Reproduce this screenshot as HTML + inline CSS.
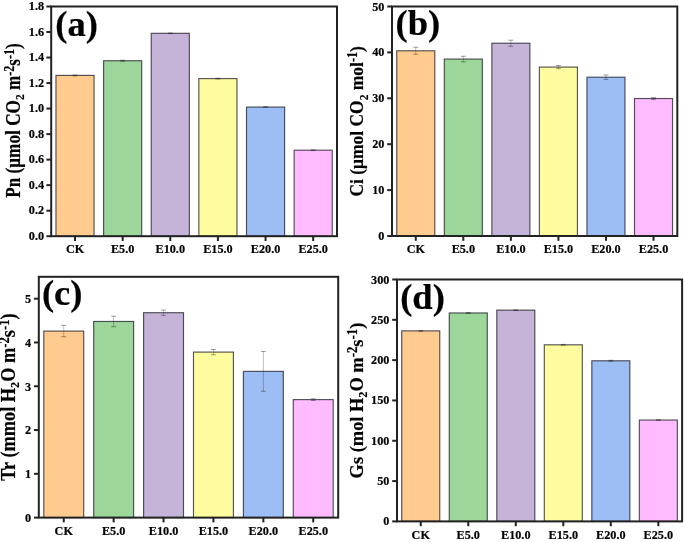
<!DOCTYPE html>
<html><head><meta charset="utf-8"><style>
html,body{margin:0;padding:0;background:#fff;}
body{width:685px;height:542px;overflow:hidden;}
svg{display:block;will-change:transform;filter:blur(0.3px);}
text{font-family:"Liberation Serif", serif;font-weight:bold;fill:#000;stroke:#000;stroke-width:0.2px;}
</style></head><body>
<svg width="685" height="542" viewBox="0 0 685 542">
<rect x="55.96" y="75.41" width="38.11" height="160.79" fill="#FFCB8F" stroke="rgba(20,20,30,0.72)" stroke-width="1.15"/>
<path d="M75.02 74.90V75.92" stroke="rgba(30,30,30,0.4)" stroke-width="0.7" fill="none"/>
<path d="M72.62 74.90H77.42M72.62 75.92H77.42" stroke="rgba(30,30,30,0.55)" stroke-width="0.8" fill="none"/>
<rect x="103.60" y="60.73" width="38.11" height="175.47" fill="#9DD69B" stroke="rgba(20,20,30,0.72)" stroke-width="1.15"/>
<path d="M122.65 60.22V61.25" stroke="rgba(30,30,30,0.4)" stroke-width="0.7" fill="none"/>
<path d="M120.25 60.22H125.05M120.25 61.25H125.05" stroke="rgba(30,30,30,0.55)" stroke-width="0.8" fill="none"/>
<rect x="151.23" y="33.30" width="38.11" height="202.90" fill="#C5B4D7" stroke="rgba(20,20,30,0.72)" stroke-width="1.15"/>
<path d="M170.28 33.04V33.55" stroke="rgba(30,30,30,0.4)" stroke-width="0.7" fill="none"/>
<path d="M167.88 33.04H172.68M167.88 33.55H172.68" stroke="rgba(30,30,30,0.55)" stroke-width="0.8" fill="none"/>
<rect x="198.86" y="78.60" width="38.11" height="157.60" fill="#FFFCA0" stroke="rgba(20,20,30,0.72)" stroke-width="1.15"/>
<path d="M217.92 78.22V78.98" stroke="rgba(30,30,30,0.4)" stroke-width="0.7" fill="none"/>
<path d="M215.52 78.22H220.32M215.52 78.98H220.32" stroke="rgba(30,30,30,0.55)" stroke-width="0.8" fill="none"/>
<rect x="246.50" y="107.06" width="38.11" height="129.14" fill="#9DBDF5" stroke="rgba(20,20,30,0.72)" stroke-width="1.15"/>
<path d="M265.55 106.67V107.44" stroke="rgba(30,30,30,0.4)" stroke-width="0.7" fill="none"/>
<path d="M263.15 106.67H267.95M263.15 107.44H267.95" stroke="rgba(30,30,30,0.55)" stroke-width="0.8" fill="none"/>
<rect x="294.13" y="150.19" width="38.11" height="86.01" fill="#FFBBFF" stroke="rgba(20,20,30,0.72)" stroke-width="1.15"/>
<path d="M313.18 149.81V150.57" stroke="rgba(30,30,30,0.4)" stroke-width="0.7" fill="none"/>
<path d="M310.78 149.81H315.58M310.78 150.57H315.58" stroke="rgba(30,30,30,0.55)" stroke-width="0.8" fill="none"/>
<rect x="51.20" y="6.50" width="285.80" height="229.70" fill="none" stroke="#222" stroke-width="2.0"/>
<line x1="46.40" y1="236.20" x2="51.20" y2="236.20" stroke="#222" stroke-width="2.0"/>
<line x1="46.40" y1="210.68" x2="51.20" y2="210.68" stroke="#222" stroke-width="2.0"/>
<line x1="46.40" y1="185.16" x2="51.20" y2="185.16" stroke="#222" stroke-width="2.0"/>
<line x1="46.40" y1="159.63" x2="51.20" y2="159.63" stroke="#222" stroke-width="2.0"/>
<line x1="46.40" y1="134.11" x2="51.20" y2="134.11" stroke="#222" stroke-width="2.0"/>
<line x1="46.40" y1="108.59" x2="51.20" y2="108.59" stroke="#222" stroke-width="2.0"/>
<line x1="46.40" y1="83.07" x2="51.20" y2="83.07" stroke="#222" stroke-width="2.0"/>
<line x1="46.40" y1="57.54" x2="51.20" y2="57.54" stroke="#222" stroke-width="2.0"/>
<line x1="46.40" y1="32.02" x2="51.20" y2="32.02" stroke="#222" stroke-width="2.0"/>
<line x1="46.40" y1="6.50" x2="51.20" y2="6.50" stroke="#222" stroke-width="2.0"/>
<line x1="75.02" y1="236.20" x2="75.02" y2="241.00" stroke="#222" stroke-width="2.0"/>
<line x1="122.65" y1="236.20" x2="122.65" y2="241.00" stroke="#222" stroke-width="2.0"/>
<line x1="170.28" y1="236.20" x2="170.28" y2="241.00" stroke="#222" stroke-width="2.0"/>
<line x1="217.92" y1="236.20" x2="217.92" y2="241.00" stroke="#222" stroke-width="2.0"/>
<line x1="265.55" y1="236.20" x2="265.55" y2="241.00" stroke="#222" stroke-width="2.0"/>
<line x1="313.18" y1="236.20" x2="313.18" y2="241.00" stroke="#222" stroke-width="2.0"/>
<text transform="translate(44.10,239.70)" text-anchor="end" font-size="12.20">0.0</text>
<text transform="translate(44.10,214.18)" text-anchor="end" font-size="12.20">0.2</text>
<text transform="translate(44.10,188.66)" text-anchor="end" font-size="12.20">0.4</text>
<text transform="translate(44.10,163.13)" text-anchor="end" font-size="12.20">0.6</text>
<text transform="translate(44.10,137.61)" text-anchor="end" font-size="12.20">0.8</text>
<text transform="translate(44.10,112.09)" text-anchor="end" font-size="12.20">1.0</text>
<text transform="translate(44.10,86.57)" text-anchor="end" font-size="12.20">1.2</text>
<text transform="translate(44.10,61.04)" text-anchor="end" font-size="12.20">1.4</text>
<text transform="translate(44.10,35.52)" text-anchor="end" font-size="12.20">1.6</text>
<text transform="translate(44.10,10.00)" text-anchor="end" font-size="12.20">1.8</text>
<text transform="translate(75.02,252.60)" text-anchor="middle" font-size="12.20">CK</text>
<text transform="translate(122.65,252.60)" text-anchor="middle" font-size="12.20">E5.0</text>
<text transform="translate(170.28,252.60)" text-anchor="middle" font-size="12.20">E10.0</text>
<text transform="translate(217.92,252.60)" text-anchor="middle" font-size="12.20">E15.0</text>
<text transform="translate(265.55,252.60)" text-anchor="middle" font-size="12.20">E20.0</text>
<text transform="translate(313.18,252.60)" text-anchor="middle" font-size="12.20">E25.0</text>
<text transform="translate(19.90,120.50) rotate(-90) scale(0.866,1)" text-anchor="middle" font-size="19.90">Pn (μmol CO<tspan font-size="13.1" dy="4.5">2</tspan><tspan dy="-4.5"> m</tspan><tspan font-size="13.9" dy="-6.2">-2</tspan><tspan dy="6.2">s</tspan><tspan font-size="13.9" dy="-6.2">-1</tspan><tspan dy="6.2">)</tspan></text>
<text transform="translate(76.60,36.30) scale(1.050,1)" text-anchor="middle" font-size="34.80">(a)</text>
<rect x="396.75" y="50.79" width="38.04" height="185.21" fill="#FFCB8F" stroke="rgba(20,20,30,0.72)" stroke-width="1.15"/>
<path d="M415.77 47.31V54.28" stroke="rgba(30,30,30,0.4)" stroke-width="0.7" fill="none"/>
<path d="M413.38 47.31H418.17M413.38 54.28H418.17" stroke="rgba(30,30,30,0.55)" stroke-width="0.8" fill="none"/>
<rect x="444.31" y="59.06" width="38.04" height="176.94" fill="#9DD69B" stroke="rgba(20,20,30,0.72)" stroke-width="1.15"/>
<path d="M463.32 56.30V61.81" stroke="rgba(30,30,30,0.4)" stroke-width="0.7" fill="none"/>
<path d="M460.93 56.30H465.72M460.93 61.81H465.72" stroke="rgba(30,30,30,0.55)" stroke-width="0.8" fill="none"/>
<rect x="491.86" y="43.22" width="38.04" height="192.78" fill="#C5B4D7" stroke="rgba(20,20,30,0.72)" stroke-width="1.15"/>
<path d="M510.88 40.19V46.25" stroke="rgba(30,30,30,0.4)" stroke-width="0.7" fill="none"/>
<path d="M508.48 40.19H513.27M508.48 46.25H513.27" stroke="rgba(30,30,30,0.55)" stroke-width="0.8" fill="none"/>
<rect x="539.40" y="67.09" width="38.04" height="168.91" fill="#FFFCA0" stroke="rgba(20,20,30,0.72)" stroke-width="1.15"/>
<path d="M558.42 65.53V68.65" stroke="rgba(30,30,30,0.4)" stroke-width="0.7" fill="none"/>
<path d="M556.02 65.53H560.82M556.02 68.65H560.82" stroke="rgba(30,30,30,0.55)" stroke-width="0.8" fill="none"/>
<rect x="586.95" y="77.19" width="38.04" height="158.81" fill="#9DBDF5" stroke="rgba(20,20,30,0.72)" stroke-width="1.15"/>
<path d="M605.97 74.98V79.39" stroke="rgba(30,30,30,0.4)" stroke-width="0.7" fill="none"/>
<path d="M603.57 74.98H608.37M603.57 79.39H608.37" stroke="rgba(30,30,30,0.55)" stroke-width="0.8" fill="none"/>
<rect x="634.50" y="98.53" width="38.04" height="137.47" fill="#FFBBFF" stroke="rgba(20,20,30,0.72)" stroke-width="1.15"/>
<path d="M653.52 97.61V99.45" stroke="rgba(30,30,30,0.4)" stroke-width="0.7" fill="none"/>
<path d="M651.12 97.61H655.92M651.12 99.45H655.92" stroke="rgba(30,30,30,0.55)" stroke-width="0.8" fill="none"/>
<rect x="392.00" y="6.50" width="285.30" height="229.50" fill="none" stroke="#222" stroke-width="2.0"/>
<line x1="387.20" y1="236.00" x2="392.00" y2="236.00" stroke="#222" stroke-width="2.0"/>
<line x1="387.20" y1="190.10" x2="392.00" y2="190.10" stroke="#222" stroke-width="2.0"/>
<line x1="387.20" y1="144.20" x2="392.00" y2="144.20" stroke="#222" stroke-width="2.0"/>
<line x1="387.20" y1="98.30" x2="392.00" y2="98.30" stroke="#222" stroke-width="2.0"/>
<line x1="387.20" y1="52.40" x2="392.00" y2="52.40" stroke="#222" stroke-width="2.0"/>
<line x1="387.20" y1="6.50" x2="392.00" y2="6.50" stroke="#222" stroke-width="2.0"/>
<line x1="415.77" y1="236.00" x2="415.77" y2="240.80" stroke="#222" stroke-width="2.0"/>
<line x1="463.32" y1="236.00" x2="463.32" y2="240.80" stroke="#222" stroke-width="2.0"/>
<line x1="510.88" y1="236.00" x2="510.88" y2="240.80" stroke="#222" stroke-width="2.0"/>
<line x1="558.42" y1="236.00" x2="558.42" y2="240.80" stroke="#222" stroke-width="2.0"/>
<line x1="605.97" y1="236.00" x2="605.97" y2="240.80" stroke="#222" stroke-width="2.0"/>
<line x1="653.52" y1="236.00" x2="653.52" y2="240.80" stroke="#222" stroke-width="2.0"/>
<text transform="translate(384.40,240.00)" text-anchor="end" font-size="12.20">0</text>
<text transform="translate(384.40,194.10)" text-anchor="end" font-size="12.20">10</text>
<text transform="translate(384.40,148.20)" text-anchor="end" font-size="12.20">20</text>
<text transform="translate(384.40,102.30)" text-anchor="end" font-size="12.20">30</text>
<text transform="translate(384.40,56.40)" text-anchor="end" font-size="12.20">40</text>
<text transform="translate(384.40,10.50)" text-anchor="end" font-size="12.20">50</text>
<text transform="translate(415.77,253.40)" text-anchor="middle" font-size="12.20">CK</text>
<text transform="translate(463.32,253.40)" text-anchor="middle" font-size="12.20">E5.0</text>
<text transform="translate(510.88,253.40)" text-anchor="middle" font-size="12.20">E10.0</text>
<text transform="translate(558.42,253.40)" text-anchor="middle" font-size="12.20">E15.0</text>
<text transform="translate(605.97,253.40)" text-anchor="middle" font-size="12.20">E20.0</text>
<text transform="translate(653.52,253.40)" text-anchor="middle" font-size="12.20">E25.0</text>
<text transform="translate(363.10,121.35) rotate(-90) scale(0.878,1)" text-anchor="middle" font-size="19.90">Ci (μmol CO<tspan font-size="13.1" dy="4.5">2</tspan><tspan dy="-4.5"> mol</tspan><tspan font-size="13.9" dy="-6.2">-1</tspan><tspan dy="6.2">)</tspan></text>
<text transform="translate(417.80,35.00) scale(1.050,1)" text-anchor="middle" font-size="34.80">(b)</text>
<rect x="43.79" y="331.09" width="39.92" height="186.51" fill="#FFCB8F" stroke="rgba(20,20,30,0.72)" stroke-width="1.15"/>
<path d="M63.75 325.40V336.78" stroke="rgba(30,30,30,0.4)" stroke-width="0.7" fill="none"/>
<path d="M61.35 325.40H66.15M61.35 336.78H66.15" stroke="rgba(30,30,30,0.55)" stroke-width="0.8" fill="none"/>
<rect x="93.69" y="321.46" width="39.92" height="196.14" fill="#9DD69B" stroke="rgba(20,20,30,0.72)" stroke-width="1.15"/>
<path d="M113.65 316.20V326.71" stroke="rgba(30,30,30,0.4)" stroke-width="0.7" fill="none"/>
<path d="M111.25 316.20H116.05M111.25 326.71H116.05" stroke="rgba(30,30,30,0.55)" stroke-width="0.8" fill="none"/>
<rect x="143.59" y="312.70" width="39.92" height="204.90" fill="#C5B4D7" stroke="rgba(20,20,30,0.72)" stroke-width="1.15"/>
<path d="M163.55 310.07V315.33" stroke="rgba(30,30,30,0.4)" stroke-width="0.7" fill="none"/>
<path d="M161.15 310.07H165.95M161.15 315.33H165.95" stroke="rgba(30,30,30,0.55)" stroke-width="0.8" fill="none"/>
<rect x="193.49" y="352.10" width="39.92" height="165.50" fill="#FFFCA0" stroke="rgba(20,20,30,0.72)" stroke-width="1.15"/>
<path d="M213.45 349.48V354.73" stroke="rgba(30,30,30,0.4)" stroke-width="0.7" fill="none"/>
<path d="M211.05 349.48H215.85M211.05 354.73H215.85" stroke="rgba(30,30,30,0.55)" stroke-width="0.8" fill="none"/>
<rect x="243.39" y="371.37" width="39.92" height="146.23" fill="#9DBDF5" stroke="rgba(20,20,30,0.72)" stroke-width="1.15"/>
<path d="M263.35 351.45V391.29" stroke="rgba(30,30,30,0.4)" stroke-width="0.7" fill="none"/>
<path d="M260.95 351.45H265.75M260.95 391.29H265.75" stroke="rgba(30,30,30,0.55)" stroke-width="0.8" fill="none"/>
<rect x="293.29" y="399.61" width="39.92" height="117.99" fill="#FFBBFF" stroke="rgba(20,20,30,0.72)" stroke-width="1.15"/>
<path d="M313.25 398.73V400.48" stroke="rgba(30,30,30,0.4)" stroke-width="0.7" fill="none"/>
<path d="M310.85 398.73H315.65M310.85 400.48H315.65" stroke="rgba(30,30,30,0.55)" stroke-width="0.8" fill="none"/>
<rect x="38.80" y="276.80" width="299.40" height="240.80" fill="none" stroke="#222" stroke-width="2.0"/>
<line x1="34.00" y1="517.60" x2="38.80" y2="517.60" stroke="#222" stroke-width="2.0"/>
<line x1="34.00" y1="473.82" x2="38.80" y2="473.82" stroke="#222" stroke-width="2.0"/>
<line x1="34.00" y1="430.04" x2="38.80" y2="430.04" stroke="#222" stroke-width="2.0"/>
<line x1="34.00" y1="386.25" x2="38.80" y2="386.25" stroke="#222" stroke-width="2.0"/>
<line x1="34.00" y1="342.47" x2="38.80" y2="342.47" stroke="#222" stroke-width="2.0"/>
<line x1="34.00" y1="298.69" x2="38.80" y2="298.69" stroke="#222" stroke-width="2.0"/>
<line x1="63.75" y1="517.60" x2="63.75" y2="522.40" stroke="#222" stroke-width="2.0"/>
<line x1="113.65" y1="517.60" x2="113.65" y2="522.40" stroke="#222" stroke-width="2.0"/>
<line x1="163.55" y1="517.60" x2="163.55" y2="522.40" stroke="#222" stroke-width="2.0"/>
<line x1="213.45" y1="517.60" x2="213.45" y2="522.40" stroke="#222" stroke-width="2.0"/>
<line x1="263.35" y1="517.60" x2="263.35" y2="522.40" stroke="#222" stroke-width="2.0"/>
<line x1="313.25" y1="517.60" x2="313.25" y2="522.40" stroke="#222" stroke-width="2.0"/>
<text transform="translate(31.20,522.00)" text-anchor="end" font-size="12.20">0</text>
<text transform="translate(31.20,478.22)" text-anchor="end" font-size="12.20">1</text>
<text transform="translate(31.20,434.44)" text-anchor="end" font-size="12.20">2</text>
<text transform="translate(31.20,390.65)" text-anchor="end" font-size="12.20">3</text>
<text transform="translate(31.20,346.87)" text-anchor="end" font-size="12.20">4</text>
<text transform="translate(31.20,303.09)" text-anchor="end" font-size="12.20">5</text>
<text transform="translate(63.75,535.00)" text-anchor="middle" font-size="12.20">CK</text>
<text transform="translate(113.65,535.00)" text-anchor="middle" font-size="12.20">E5.0</text>
<text transform="translate(163.55,535.00)" text-anchor="middle" font-size="12.20">E10.0</text>
<text transform="translate(213.45,535.00)" text-anchor="middle" font-size="12.20">E15.0</text>
<text transform="translate(263.35,535.00)" text-anchor="middle" font-size="12.20">E20.0</text>
<text transform="translate(313.25,535.00)" text-anchor="middle" font-size="12.20">E25.0</text>
<text transform="translate(14.80,397.00) rotate(-90) scale(0.920,1)" text-anchor="middle" font-size="19.90">Tr (mmol H<tspan font-size="13.1" dy="4.5">2</tspan><tspan dy="-4.5">O m</tspan><tspan font-size="13.9" dy="-6.2">-2</tspan><tspan dy="6.2">s</tspan><tspan font-size="13.9" dy="-6.2">-1</tspan><tspan dy="6.2">)</tspan></text>
<text transform="translate(62.20,304.80) scale(1.050,1)" text-anchor="middle" font-size="34.80">(c)</text>
<rect x="401.75" y="330.86" width="38.01" height="190.54" fill="#FFCB8F" stroke="rgba(20,20,30,0.72)" stroke-width="1.15"/>
<path d="M420.76 330.46V331.27" stroke="rgba(30,30,30,0.4)" stroke-width="0.7" fill="none"/>
<path d="M418.36 330.46H423.16M418.36 331.27H423.16" stroke="rgba(30,30,30,0.55)" stroke-width="0.8" fill="none"/>
<rect x="449.27" y="312.96" width="38.01" height="208.44" fill="#9DD69B" stroke="rgba(20,20,30,0.72)" stroke-width="1.15"/>
<path d="M468.27 312.48V313.45" stroke="rgba(30,30,30,0.4)" stroke-width="0.7" fill="none"/>
<path d="M465.88 312.48H470.67M465.88 313.45H470.67" stroke="rgba(30,30,30,0.55)" stroke-width="0.8" fill="none"/>
<rect x="496.79" y="310.14" width="38.01" height="211.26" fill="#C5B4D7" stroke="rgba(20,20,30,0.72)" stroke-width="1.15"/>
<path d="M515.79 309.74V310.54" stroke="rgba(30,30,30,0.4)" stroke-width="0.7" fill="none"/>
<path d="M513.39 309.74H518.19M513.39 310.54H518.19" stroke="rgba(30,30,30,0.55)" stroke-width="0.8" fill="none"/>
<rect x="544.30" y="344.81" width="38.01" height="176.59" fill="#FFFCA0" stroke="rgba(20,20,30,0.72)" stroke-width="1.15"/>
<path d="M563.31 344.41V345.22" stroke="rgba(30,30,30,0.4)" stroke-width="0.7" fill="none"/>
<path d="M560.91 344.41H565.71M560.91 345.22H565.71" stroke="rgba(30,30,30,0.55)" stroke-width="0.8" fill="none"/>
<rect x="591.82" y="360.78" width="38.01" height="160.62" fill="#9DBDF5" stroke="rgba(20,20,30,0.72)" stroke-width="1.15"/>
<path d="M610.83 360.29V361.26" stroke="rgba(30,30,30,0.4)" stroke-width="0.7" fill="none"/>
<path d="M608.43 360.29H613.23M608.43 361.26H613.23" stroke="rgba(30,30,30,0.55)" stroke-width="0.8" fill="none"/>
<rect x="639.34" y="420.04" width="38.01" height="101.36" fill="#FFBBFF" stroke="rgba(20,20,30,0.72)" stroke-width="1.15"/>
<path d="M658.34 419.72V420.37" stroke="rgba(30,30,30,0.4)" stroke-width="0.7" fill="none"/>
<path d="M655.94 419.72H660.74M655.94 420.37H660.74" stroke="rgba(30,30,30,0.55)" stroke-width="0.8" fill="none"/>
<rect x="397.00" y="279.50" width="285.10" height="241.90" fill="none" stroke="#222" stroke-width="2.0"/>
<line x1="392.20" y1="521.40" x2="397.00" y2="521.40" stroke="#222" stroke-width="2.0"/>
<line x1="392.20" y1="481.08" x2="397.00" y2="481.08" stroke="#222" stroke-width="2.0"/>
<line x1="392.20" y1="440.77" x2="397.00" y2="440.77" stroke="#222" stroke-width="2.0"/>
<line x1="392.20" y1="400.45" x2="397.00" y2="400.45" stroke="#222" stroke-width="2.0"/>
<line x1="392.20" y1="360.13" x2="397.00" y2="360.13" stroke="#222" stroke-width="2.0"/>
<line x1="392.20" y1="319.82" x2="397.00" y2="319.82" stroke="#222" stroke-width="2.0"/>
<line x1="392.20" y1="279.50" x2="397.00" y2="279.50" stroke="#222" stroke-width="2.0"/>
<line x1="420.76" y1="521.40" x2="420.76" y2="526.20" stroke="#222" stroke-width="2.0"/>
<line x1="468.27" y1="521.40" x2="468.27" y2="526.20" stroke="#222" stroke-width="2.0"/>
<line x1="515.79" y1="521.40" x2="515.79" y2="526.20" stroke="#222" stroke-width="2.0"/>
<line x1="563.31" y1="521.40" x2="563.31" y2="526.20" stroke="#222" stroke-width="2.0"/>
<line x1="610.83" y1="521.40" x2="610.83" y2="526.20" stroke="#222" stroke-width="2.0"/>
<line x1="658.34" y1="521.40" x2="658.34" y2="526.20" stroke="#222" stroke-width="2.0"/>
<text transform="translate(389.40,525.40)" text-anchor="end" font-size="12.20">0</text>
<text transform="translate(389.40,485.08)" text-anchor="end" font-size="12.20">50</text>
<text transform="translate(389.40,444.77)" text-anchor="end" font-size="12.20">100</text>
<text transform="translate(389.40,404.45)" text-anchor="end" font-size="12.20">150</text>
<text transform="translate(389.40,364.13)" text-anchor="end" font-size="12.20">200</text>
<text transform="translate(389.40,323.82)" text-anchor="end" font-size="12.20">250</text>
<text transform="translate(389.40,283.50)" text-anchor="end" font-size="12.20">300</text>
<text transform="translate(420.76,538.80)" text-anchor="middle" font-size="12.20">CK</text>
<text transform="translate(468.27,538.80)" text-anchor="middle" font-size="12.20">E5.0</text>
<text transform="translate(515.79,538.80)" text-anchor="middle" font-size="12.20">E10.0</text>
<text transform="translate(563.31,538.80)" text-anchor="middle" font-size="12.20">E15.0</text>
<text transform="translate(610.83,538.80)" text-anchor="middle" font-size="12.20">E20.0</text>
<text transform="translate(658.34,538.80)" text-anchor="middle" font-size="12.20">E25.0</text>
<text transform="translate(362.70,400.50) rotate(-90) scale(0.925,1)" text-anchor="middle" font-size="19.90">Gs (mol H<tspan font-size="13.1" dy="4.5">2</tspan><tspan dy="-4.5">O m</tspan><tspan font-size="13.9" dy="-6.2">-2</tspan><tspan dy="6.2">s</tspan><tspan font-size="13.9" dy="-6.2">-1</tspan><tspan dy="6.2">)</tspan></text>
<text transform="translate(422.50,308.90) scale(1.050,1)" text-anchor="middle" font-size="34.80">(d)</text>
</svg>
</body></html>
